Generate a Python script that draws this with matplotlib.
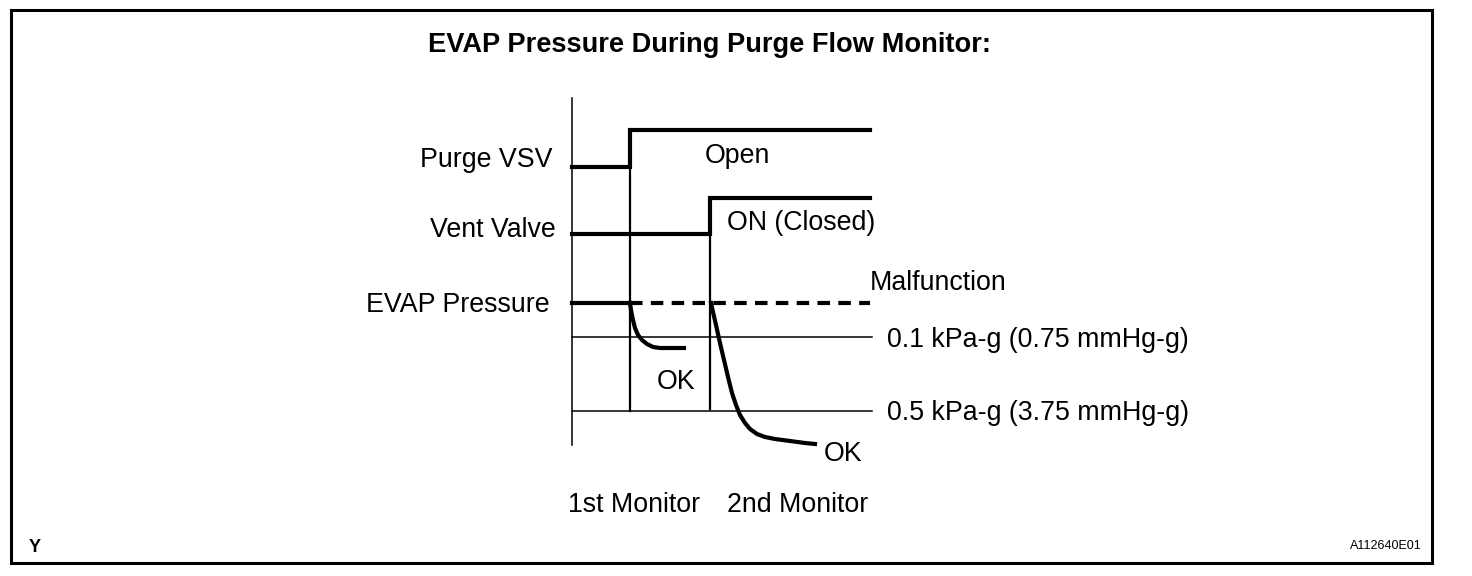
import matplotlib
matplotlib.use("Agg")
import matplotlib.pyplot as plt
from matplotlib.patches import Rectangle

plt.rcParams['font.family'] = ['Liberation Sans', 'DejaVu Sans']

# ---- data (diagram units: x = time in px-like units, y = level) ----
title = "EVAP Pressure During Purge Flow Monitor:"
signal_labels = ["Purge VSV", "Vent Valve", "EVAP Pressure"]

purge_x = [572, 630, 630, 870]
purge_y = [167, 167, 130, 130]
vent_x = [572, 710, 710, 870]
vent_y = [234, 234, 198, 198]
evap_x = [572, 630]
evap_y = [303, 303]
malf_x = [630, 870]
malf_y = [303, 303]

thresh_levels = [337, 411]
thresh_labels = ["0.1 kPa-g (0.75 mmHg-g)", "0.5 kPa-g (3.75 mmHg-g)"]
thresh_x = [572, 872]

mon1_x = 630
mon2_x = 710
monitor_labels = ["1st Monitor", "2nd Monitor"]

ok1_x = [630, 631, 633, 635, 638, 642, 647, 653, 660, 684]
ok1_y = [303, 310, 320, 328, 335, 340, 344, 347, 348, 348]
ok2_x = [711, 713, 716, 720, 724, 728, 732, 736, 740, 745, 750, 757, 765, 775, 790, 805, 815]
ok2_y = [303, 312, 325, 343, 360, 377, 393, 405, 415, 423, 429, 434, 437, 439, 441, 443, 444]

fig = plt.figure(figsize=(14.72, 5.76), dpi=100)
ax = fig.add_axes([0, 0, 1, 1])
ax.set_xlim(0, 1472)
ax.set_ylim(576, 0)
ax.axis('off')

# frame
ax.add_patch(Rectangle((11, 10), 1421, 553, fill=False, lw=2.2, ec='black'))

thick = 3.0
thin = 1.1
fs = 19.3

# axis line
ax.plot([572, 572], [98, 445], color='black', lw=thin)
# threshold lines
for lvl in thresh_levels:
    ax.plot(thresh_x, [lvl, lvl], color='black', lw=thin)
# monitor verticals
ax.plot([mon1_x, mon1_x], [130, 411], color='black', lw=thin + 0.5)
ax.plot([mon2_x, mon2_x], [198, 409], color='black', lw=thin + 0.5)

# signals
ax.plot(purge_x, purge_y, color='black', lw=thick, solid_joinstyle='miter')
ax.plot(vent_x, vent_y, color='black', lw=thick, solid_joinstyle='miter')
ax.plot(evap_x, evap_y, color='black', lw=thick)
ax.plot(malf_x, malf_y, color='black', lw=thick, linestyle=(0, (3, 2)))
ax.plot(ok1_x, ok1_y, color='black', lw=thick, solid_joinstyle='round')
ax.plot(ok2_x, ok2_y, color='black', lw=thick, solid_joinstyle='round')

# texts
ax.text(428, 45, title, fontsize=19.6, fontweight='bold', ha='left', va='center')
ax.text(552, 160, signal_labels[0], fontsize=fs, ha='right', va='center')
ax.text(556, 230, signal_labels[1], fontsize=fs, ha='right', va='center')
ax.text(550, 305, signal_labels[2], fontsize=fs, ha='right', va='center')
ax.text(705, 156, "Open", fontsize=fs, ha='left', va='center')
ax.text(727, 223, "ON (Closed)", fontsize=fs, ha='left', va='center')
ax.text(870, 283, "Malfunction", fontsize=fs, ha='left', va='center')
ax.text(887, 340, thresh_labels[0], fontsize=fs, ha='left', va='center')
ax.text(887, 413, thresh_labels[1], fontsize=fs, ha='left', va='center')
ax.text(657, 382, "OK", fontsize=fs, ha='left', va='center')
ax.text(824, 454, "OK", fontsize=fs, ha='left', va='center')
ax.text(568, 505, monitor_labels[0], fontsize=fs, ha='left', va='center')
ax.text(727, 505, monitor_labels[1], fontsize=fs, ha='left', va='center')
ax.text(29, 547, "Y", fontsize=13, fontweight='bold', ha='left', va='center')
ax.text(1422, 546, "A112640E01", fontsize=9, ha='right', va='center')

fig.savefig("out.png", dpi=100)
